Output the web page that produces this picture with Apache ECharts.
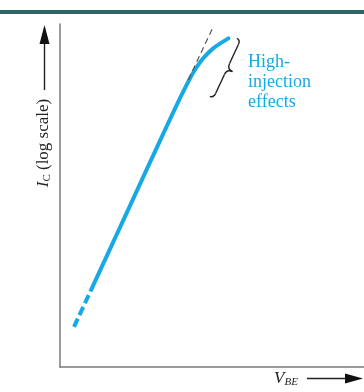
<!DOCTYPE html>
<html>
<head>
<meta charset="utf-8">
<script src="https://cdn.jsdelivr.net/npm/echarts@6/dist/echarts.min.js"></script>
<style>
  html, body { margin: 0; padding: 0; background: #fff; }
  #chart { width: 364px; height: 392px; }
</style>
</head>
<body>
<div id="chart"></div>
<script>
  // log(Ic) vs Vbe, in percent of the axes (no numeric ticks on the figure)
  const lowDashed = [[4.6, 11.7], [10.5, 23.0]]
  const mainCurve = [
    [10.5, 23.0], [22.7, 46.4], [34.9, 69.8], [38.5, 76.6], [41.7, 82.3],
    [43.8, 85.8], [47.1, 90.0], [50.4, 92.9], [55.4, 95.8]
  ]
  const idealLine = [[42.2, 83.7], [50.4, 99.2]]
  const noteLines = ['High-', 'injection', 'effects']

  const blue = '#17a9e6'
  const serif = 'Liberation Serif, Times New Roman, serif'
  const ink = { stroke: '#222', lineWidth: 1.4, fill: null }

  const chart = echarts.init(document.getElementById('chart'))

  chart.setOption({
    animation: false,
    grid: { left: 60, right: 0, top: 24, bottom: 25 },
    xAxis: {
      type: 'value', min: 0, max: 100,
      axisLine: { show: true, lineStyle: { color: '#7a7a7a', width: 1.5 } },
      axisTick: { show: false }, axisLabel: { show: false }, splitLine: { show: false }
    },
    yAxis: {
      type: 'value', min: 0, max: 100,
      axisLine: { show: true, lineStyle: { color: '#7a7a7a', width: 1.5 } },
      axisTick: { show: false }, axisLabel: { show: false }, splitLine: { show: false }
    },
    series: [
      {
        type: 'line', data: lowDashed, showSymbol: false,
        lineStyle: { color: blue, width: 4, type: [9, 4], cap: 'butt' }
      },
      {
        type: 'line', data: mainCurve, showSymbol: false, smooth: 0.3,
        lineStyle: { color: blue, width: 4, cap: 'round' }
      },
      {
        type: 'line', data: idealLine, showSymbol: false,
        lineStyle: { color: '#555', width: 1.2, type: [6, 4] }
      }
    ],
    graphic: [
      // top rule
      { type: 'rect', shape: { x: 0, y: 10, width: 364, height: 4 }, style: { fill: '#2f6464' } },
      // brace, drawn upright then tilted
      {
        type: 'group', x: 227, y: 69, rotation: -0.436,
        children: [
          { type: 'bezierCurve', shape: { x1: -4, y1: -32, cpx1: 0, cpy1: -32, x2: 0, y2: -27 }, style: ink },
          { type: 'line', shape: { x1: 0, y1: -27, x2: 0, y2: -6 }, style: ink },
          { type: 'bezierCurve', shape: { x1: 0, y1: -6, cpx1: 0, cpy1: 0, x2: 6, y2: 0 }, style: ink },
          { type: 'bezierCurve', shape: { x1: 6, y1: 0, cpx1: 0, cpy1: 0, x2: 0, y2: 6 }, style: ink },
          { type: 'line', shape: { x1: 0, y1: 6, x2: 0, y2: 27 }, style: ink },
          { type: 'bezierCurve', shape: { x1: 0, y1: 27, cpx1: 0, cpy1: 32, x2: -4, y2: 32 }, style: ink }
        ]
      },
      {
        type: 'text', x: 248, y: 52,
        style: {
          text: noteLines.join('\n'), fill: blue, font: '18px ' + serif,
          lineHeight: 20, align: 'left', verticalAlign: 'top'
        }
      },
      // y axis label + arrow
      {
        type: 'text', x: 44, y: 143, rotation: Math.PI / 2,
        style: {
          text: '{i|I}{s|C}{n| (log scale)}', align: 'center', verticalAlign: 'middle',
          rich: {
            i: { font: 'italic 17px ' + serif, fill: '#222', verticalAlign: 'middle' },
            s: { font: '11px ' + serif, fill: '#222', verticalAlign: 'bottom', padding: [6, 0, 0, 0] },
            n: { font: '17px ' + serif, fill: '#222', verticalAlign: 'middle' }
          }
        }
      },
      { type: 'line', shape: { x1: 44.5, y1: 40, x2: 44.5, y2: 90 }, style: { stroke: '#222', lineWidth: 1.4 } },
      { type: 'polygon', shape: { points: [[44.5, 25], [39.5, 44], [49.5, 44]] }, style: { fill: '#111' } },
      // x axis label + arrow
      {
        type: 'text', x: 286, y: 379,
        style: {
          text: '{i|V}{s|BE}', align: 'center', verticalAlign: 'middle',
          rich: {
            i: { font: 'italic 17px ' + serif, fill: '#222', verticalAlign: 'middle' },
            s: { font: 'italic 11px ' + serif, fill: '#222', verticalAlign: 'bottom', padding: [6, 0, 0, 0] }
          }
        }
      },
      { type: 'line', shape: { x1: 307, y1: 378.5, x2: 348, y2: 378.5 }, style: { stroke: '#222', lineWidth: 1.4 } },
      { type: 'polygon', shape: { points: [[363, 378.5], [345, 373.5], [345, 383.5]] }, style: { fill: '#111' } }
    ]
  })
</script>
</body>
</html>
